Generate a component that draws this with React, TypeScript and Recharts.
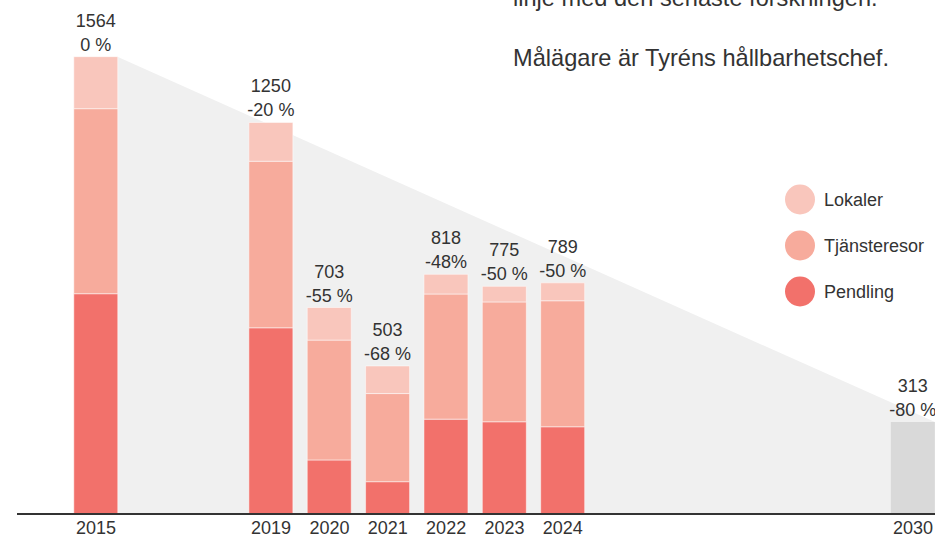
import { Area, Bar, ComposedChart, LabelList, XAxis, YAxis } from 'recharts';

const FONT = '"Liberation Sans", Arial, Helvetica, sans-serif';
const TEXT = '#333333';

// Kategorier (tomma platser håller avståndet mellan åren)
const years = ['2015', '', '', '2019', '2020', '2021', '2022', '2023', '2024', '', '', '', '', '', '2030'];

// Utsläpp per år (ton CO2e)
const pendling = [750, null, null, 634, 184, 110, 323, 314, 297, null, null, null, null, null, null];
const tjansteresor = [630, null, null, 567, 408, 300, 426, 408, 429, null, null, null, null, null, null];
const lokaler = [177, null, null, 132, 111, 94, 67, 53, 61, null, null, null, null, null, null];
const mal2030 = [null, null, null, null, null, null, null, null, null, null, null, null, null, null, 313];

// Etiketter ovanför staplarna
const totalLabels = ['1564', '', '', '1250', '703', '503', '818', '775', '789', '', '', '', '', '', '313'];
const changeLabels = ['0 %', '', '', '-20 %', '-55 %', '-68 %', '-48%', '-50 %', '-50 %', '', '', '', '', '', '-80 %'];

// Grå reduktionskil: från 2015 till målet 2030
const wedgeStart = 1556;
const wedgeEnd = 313;

const series = [
  { key: 'lokaler', name: 'Lokaler', color: '#f9c6bc' },
  { key: 'tjansteresor', name: 'Tjänsteresor', color: '#f7ab9c' },
  { key: 'pendling', name: 'Pendling', color: '#f2716b' },
];

const data = years.map((year, i) => ({
  year,
  pendling: pendling[i],
  tjansteresor: tjansteresor[i],
  lokaler: lokaler[i],
  mal: mal2030[i],
  total: totalLabels[i],
  change: changeLabels[i],
}));

// layout
const CHART_W = 950;
const CHART_H = 538;
const LEFT = 17;
const BAND = 58.36;
const PAD_L = 49.8;
const PAD_R = CHART_W - LEFT - PAD_L - BAND * years.length;
const BAR = 44;
const edge = BAR / 2 / BAND;

const wedge = [
  { i: 0 + edge, v: wedgeStart },
  { i: years.length - 1 + edge, v: wedgeEnd },
];

const labelAt = (dy: number) => (props: any) => {
  const { x, y, width, value } = props;
  if (!value || y == null) return null;
  return (
    <text
      x={Number(x) + Number(width) / 2}
      y={Number(y) + dy}
      textAnchor="middle"
      fontSize={18}
      fill={TEXT}
      fontFamily={FONT}
    >
      {value}
    </text>
  );
};
const totalLabel = labelAt(-30);
const changeLabel = labelAt(-6);

export default function App() {
  return (
    <div
      style={{
        position: 'absolute',
        left: 0,
        top: 0,
        width: 935,
        height: 538,
        overflow: 'hidden',
        background: '#fff',
        fontFamily: FONT,
      }}
    >
      <ComposedChart
        width={CHART_W}
        height={CHART_H}
        data={data}
        margin={{ top: 0, right: 0, left: LEFT, bottom: 0 }}
      >
        <XAxis
          dataKey="year"
          height={24}
          padding={{ left: PAD_L, right: PAD_R }}
          axisLine={{ stroke: TEXT, strokeWidth: 2 }}
          tickLine={false}
          tickMargin={1}
          interval={0}
          tick={{ fontSize: 18, fill: TEXT, fontFamily: FONT }}
        />
        <XAxis
          xAxisId="wedge"
          dataKey="i"
          type="number"
          domain={[-0.5, years.length - 0.5]}
          padding={{ left: PAD_L, right: PAD_R }}
          allowDataOverflow
          hide
        />
        <YAxis domain={[0, 1750]} allowDataOverflow hide />
        <Area
          xAxisId="wedge"
          data={wedge}
          dataKey="v"
          type="linear"
          stroke="none"
          fill="#f0f0f0"
          fillOpacity={1}
          isAnimationActive={false}
        />
        <Bar dataKey="pendling" name="Pendling" stackId="a" barSize={BAR} fill="#f2716b" stroke="rgba(255,255,255,0.5)" strokeWidth={1} isAnimationActive={false} />
        <Bar dataKey="tjansteresor" name="Tjänsteresor" stackId="a" barSize={BAR} fill="#f7ab9c" stroke="rgba(255,255,255,0.5)" strokeWidth={1} isAnimationActive={false} />
        <Bar dataKey="lokaler" name="Lokaler" stackId="a" barSize={BAR} fill="#f9c6bc" stroke="rgba(255,255,255,0.5)" strokeWidth={1} isAnimationActive={false}>
          <LabelList dataKey="total" content={totalLabel} />
          <LabelList dataKey="change" content={changeLabel} />
        </Bar>
        <Bar dataKey="mal" name="Mål 2030" stackId="a" barSize={BAR} fill="#d9d9d9" isAnimationActive={false}>
          <LabelList dataKey="total" content={totalLabel} />
          <LabelList dataKey="change" content={changeLabel} />
        </Bar>
      </ComposedChart>

      <svg
        width={935}
        height={538}
        style={{ position: 'absolute', left: 0, top: 0, pointerEvents: 'none' }}
      >
        <text x={513} y={5.5} fontSize={23.6} fill={TEXT} fontFamily={FONT}>
          linje med den senaste forskningen.
        </text>
        <text x={513} y={66} fontSize={23.6} fill={TEXT} fontFamily={FONT}>
          Målägare är Tyréns hållbarhetschef.
        </text>
        {series.map((s, i) => (
          <g key={s.key}>
            <circle cx={800} cy={199.5 + i * 46} r={15} fill={s.color} />
            <text x={824} y={199.5 + i * 46 + 6.5} fontSize={18} fill={TEXT} fontFamily={FONT}>
              {s.name}
            </text>
          </g>
        ))}
      </svg>
    </div>
  );
}
